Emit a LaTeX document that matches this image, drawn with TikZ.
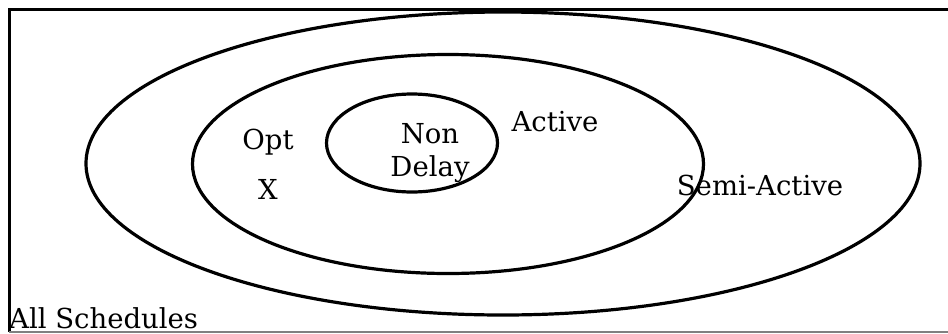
\documentclass[tikz,border=0pt]{standalone}
\usepackage{fontspec}
\setmainfont{DejaVu Serif}
\usetikzlibrary{shapes,shapes.geometric,positioning}

\begin{document}
\begin{tikzpicture}[x=1pt, y=-1pt,
    set/.style={ellipse, draw, line width=3.2pt, inner sep=0pt},
    label/.style={inner sep=0pt, font=\fontsize{27.5}{32}\selectfont},
    frame/.style={draw, line width=3pt}
]
\useasboundingbox (0,0) rectangle (948,333);

% frame of all schedules
\coordinate (tr) at (948,9);
\coordinate (tl) at (9,9);
\coordinate (bl) at (9,332);
\coordinate (br) at (948,332);
\path [frame] (tr) -- (tl) -- (bl);
\draw [gray, line width=1.5pt] (bl) -- (br);

\node [set, minimum width=834pt, minimum height=303pt] (semiactive) at (503,163.5) {};
\node [set, minimum width=511pt, minimum height=219pt] (active) at (448,164) {};
\node [set, minimum width=171pt, minimum height=98pt] (nondelay) at (412,143) {};

\node [label] (nd1) at (430,134) {Non};
\node [label] (nd2) at (430,169) {Delay};
\node [label] (opt) at (268,142) {Opt};
\node [label] (x) at (268,189) {X};
\node [label] (act) at (555,122) {Active};
\node [label] (semi) at (760,185) {Semi-Active};
\node [label, anchor=base west] (all) at (9,328) {All Schedules};

\end{tikzpicture}
\end{document}
